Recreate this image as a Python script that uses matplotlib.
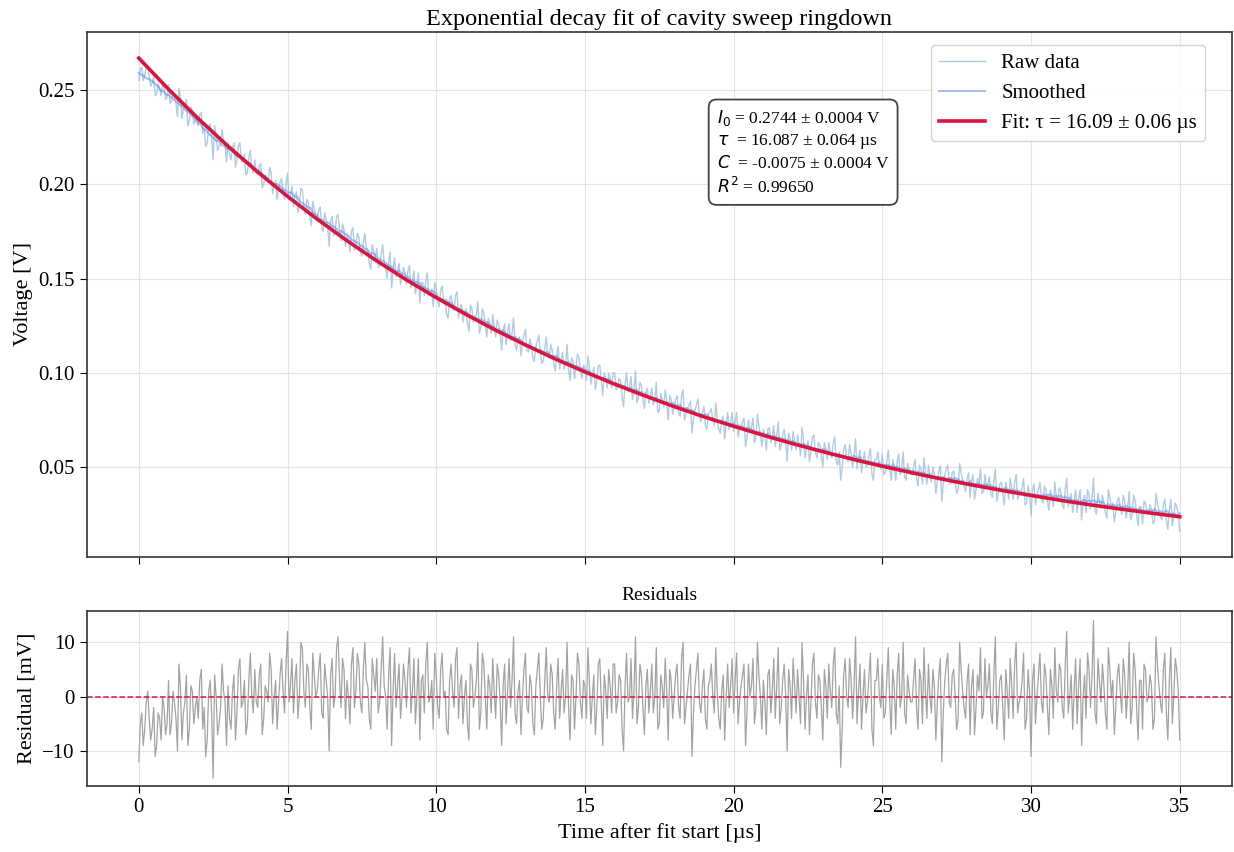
import numpy as np
import pandas as pd
import matplotlib
matplotlib.use("Agg")
from matplotlib import pyplot as plt

plt.rcParams['font.family'] = ['Liberation Serif', 'DejaVu Serif']
plt.rcParams['mathtext.fontset'] = 'dejavusans'

# fit curve, mV at each whole microsecond (0..35)
fit_t = list(range(36))
fit_mv = [266.9, 250.4, 234.8, 220.2, 206.5, 193.6, 181.5, 170.1, 159.4, 149.3,
          139.9, 131.0, 122.6, 114.8, 107.4, 100.5, 94.0, 87.9, 82.1, 76.7,
          71.7, 66.9, 62.4, 58.2, 54.2, 50.5, 47.0, 43.7, 40.6, 37.7,
          35.0, 32.4, 30.0, 27.8, 25.7, 23.7]

# raw trace, mV, one sample per 0.05 us (one row = 1 us)
raw_mv = [
    255, 261, 262, 255, 258, 262, 263, 257, 252, 254, 257, 247, 248, 253, 251, 247, 254, 251, 245, 246,
    253, 243, 244, 249, 246, 243, 236, 251, 246, 235, 240, 241, 245, 231, 234, 241, 239, 232, 234, 236,
    231, 237, 238, 227, 230, 220, 222, 231, 232, 225, 213, 231, 226, 218, 220, 222, 229, 223, 221, 212,
    222, 216, 213, 219, 222, 209, 213, 220, 222, 212, 212, 216, 205, 206, 214, 218, 209, 206, 213, 206,
    205, 210, 211, 198, 200, 205, 204, 201, 209, 206, 195, 199, 202, 192, 197, 201, 203, 197, 192, 200,
    206, 192, 194, 199, 188, 194, 196, 185, 189, 198, 197, 188, 184, 192, 190, 183, 178, 191, 187, 182,
    182, 186, 188, 177, 175, 185, 181, 178, 167, 180, 183, 173, 175, 183, 184, 176, 170, 179, 176, 167,
    173, 170, 164, 175, 177, 165, 168, 174, 172, 164, 162, 169, 174, 166, 165, 158, 155, 168, 164, 161,
    166, 156, 157, 163, 168, 159, 156, 150, 159, 164, 145, 155, 161, 151, 154, 158, 147, 151, 156, 153,
    147, 154, 157, 145, 148, 154, 142, 146, 153, 137, 148, 148, 141, 149, 153, 141, 142, 144, 135, 148,
    144, 138, 135, 144, 146, 138, 138, 131, 129, 139, 141, 136, 133, 141, 143, 129, 135, 136, 127, 132,
    134, 126, 122, 136, 134, 127, 129, 131, 138, 121, 124, 134, 132, 126, 119, 129, 126, 121, 131, 124,
    119, 128, 126, 121, 112, 123, 126, 115, 121, 126, 117, 121, 129, 115, 112, 118, 119, 109, 116, 120,
    123, 112, 111, 118, 115, 108, 106, 114, 117, 120, 111, 105, 106, 113, 119, 109, 108, 115, 112, 105,
    101, 109, 114, 102, 107, 111, 102, 105, 115, 102, 96, 108, 106, 97, 103, 110, 108, 101, 97, 104,
    103, 96, 109, 103, 94, 99, 103, 91, 96, 104, 104, 96, 88, 100, 97, 92, 100, 97, 92, 100,
    100, 91, 92, 97, 96, 87, 82, 94, 100, 90, 91, 98, 86, 91, 101, 84, 87, 95, 93, 86,
    81, 90, 92, 84, 88, 92, 83, 86, 95, 79, 80, 89, 86, 82, 91, 85, 75, 88, 86, 78,
    82, 86, 88, 79, 77, 88, 91, 75, 78, 81, 83, 85, 68, 76, 80, 83, 86, 77, 74, 79,
    82, 72, 70, 78, 79, 81, 75, 72, 84, 75, 70, 68, 75, 77, 65, 73, 79, 70, 74, 79,
    69, 74, 79, 66, 70, 72, 74, 76, 61, 66, 75, 69, 71, 76, 63, 66, 78, 72, 67, 61,
    70, 66, 59, 70, 71, 63, 67, 72, 61, 67, 74, 59, 62, 67, 70, 64, 53, 68, 65, 59,
    69, 64, 59, 67, 62, 56, 71, 64, 55, 60, 64, 53, 59, 66, 67, 58, 55, 63, 62, 56,
    50, 63, 60, 54, 63, 58, 55, 63, 66, 53, 51, 58, 43, 50, 59, 62, 55, 53, 62, 57,
    50, 56, 65, 49, 55, 59, 47, 53, 58, 50, 51, 56, 60, 46, 43, 54, 54, 58, 51, 49,
    57, 46, 47, 53, 59, 49, 43, 54, 51, 43, 53, 57, 46, 48, 58, 45, 43, 52, 48, 46,
    46, 50, 54, 44, 40, 51, 49, 41, 55, 46, 41, 51, 45, 42, 50, 46, 36, 43, 48, 51,
    32, 41, 46, 49, 51, 42, 41, 47, 48, 42, 36, 38, 52, 47, 43, 40, 37, 44, 47, 34,
    43, 46, 33, 38, 44, 41, 49, 36, 37, 46, 39, 41, 45, 36, 34, 43, 49, 32, 36, 41,
    42, 36, 30, 42, 38, 33, 44, 39, 33, 42, 46, 33, 35, 36, 39, 44, 30, 31, 40, 36,
    24, 38, 41, 30, 35, 38, 42, 33, 31, 40, 38, 32, 27, 38, 35, 29, 42, 34, 32, 39,
    37, 30, 28, 38, 44, 29, 32, 36, 26, 32, 38, 26, 33, 38, 22, 31, 35, 26, 38, 35,
    28, 34, 44, 27, 25, 36, 32, 28, 35, 31, 26, 23, 38, 34, 29, 31, 21, 26, 32, 34,
    29, 25, 35, 32, 23, 28, 37, 22, 25, 35, 32, 25, 19, 29, 29, 20, 32, 31, 25, 26,
    30, 28, 20, 21, 36, 31, 27, 24, 22, 30, 33, 22, 17, 27, 33, 19, 24, 31, 29, 25,
    16]

# residuals, mV, one sample per 0.05 us (one row = 1 us)
resid_mv = [
    -12, -5, -3, -9, -6, -1, 1, -4, -8, -6, -2, -11, -9, -3, -4, -8, 0, -2, -7, -5,
    3, -7, -5, 1, -1, -4, -10, 6, 2, -8, -3, -1, 4, -9, -6, 2, 1, -5, -2, 0,
    -4, 3, 5, -6, -2, -11, -8, 1, 3, -3, -15, 4, 0, -7, -5, -2, 6, 1, -1, -9,
    2, -4, -6, 1, 4, -8, -3, 5, 7, -2, -1, 3, -7, -5, 3, 8, 0, -3, 5, -1,
    -2, 4, 6, -7, -4, 2, 1, -1, 8, 5, -5, 0, 3, -6, -1, 4, 7, 1, -3, 6,
    12, -1, 2, 7, -3, 3, 6, -4, 0, 10, 9, 1, -2, 6, 5, -2, -6, 8, 4, 0,
    1, 5, 8, -3, -4, 6, 3, 0, -10, 4, 7, -2, 0, 9, 11, 3, -2, 7, 5, -4,
    3, 0, -5, 6, 9, -2, 1, 8, 6, -1, -3, 5, 10, 3, 2, -4, -6, 7, 4, 1,
    7, -3, -1, 5, 11, 2, 0, -6, 4, 9, -9, 1, 8, -2, 2, 6, -4, 0, 6, 3,
    -2, 5, 9, -3, 1, 7, -5, 0, 7, -8, 3, 4, -3, 6, 10, -1, 0, 3, -6, 8,
    4, -2, -4, 5, 8, 0, 1, -6, -7, 3, 6, 1, -2, 7, 9, -4, 2, 4, -5, 0,
    3, -5, -8, 6, 5, -2, 0, 3, 10, -6, -3, 8, 6, 0, -6, 4, 2, -3, 7, 1,
    -4, 6, 4, -1, -9, 2, 6, -5, 1, 7, -2, 3, 11, -3, -5, 1, 3, -7, 0, 5,
    8, -2, -3, 4, 2, -5, -7, 2, 5, 8, 0, -6, -4, 3, 9, 0, -1, 6, 4, -3,
    -6, 2, 7, -4, 1, 5, -3, 0, 10, -2, -8, 4, 3, -6, 0, 8, 6, -1, -4, 3,
    2, -4, 9, 3, -5, 0, 4, -7, -2, 6, 7, -1, -9, 4, 1, -4, 5, 2, -3, 6,
    6, -3, -1, 4, 3, -6, -10, 2, 8, -1, 0, 7, -4, 1, 11, -5, -2, 6, 4, -2,
    -7, 2, 5, -3, 1, 6, -3, 0, 9, -6, -5, 4, 2, -2, 7, 1, -8, 5, 3, -4,
    0, 4, 6, -2, -4, 7, 10, -5, -2, 1, 4, 6, -11, -3, 2, 5, 8, -1, -3, 2,
    5, -4, -6, 2, 3, 6, 0, -3, 9, 1, -4, -6, 1, 4, -8, 0, 6, -2, 2, 7,
    -3, 3, 8, -5, -1, 2, 4, 6, -9, -3, 6, 0, 2, 7, -5, -2, 10, 4, 0, -6,
    3, -1, -7, 4, 5, -3, 1, 7, -4, 2, 9, -5, -2, 3, 6, 0, -10, 5, 2, -4,
    7, 2, -3, 5, 0, -5, 10, 3, -6, 0, 4, -7, -1, 6, 8, -1, -4, 4, 3, -2,
    -8, 5, 2, -4, 6, 1, -2, 6, 9, -3, -5, 2, -13, -6, 4, 7, 0, -2, 7, 3,
    -4, 2, 11, -5, 1, 6, -6, 0, 5, -3, -1, 4, 8, -6, -9, 3, 3, 7, 0, -2,
    6, -4, -3, 3, 9, -1, -7, 5, 2, -6, 4, 8, -2, 0, 10, -3, -5, 4, 1, -1,
    -1, 3, 7, -2, -6, 5, 3, -5, 9, 1, -4, 6, 0, -3, 5, 2, -8, -1, 4, 7,
    -12, -3, 3, 6, 8, -1, -2, 4, 5, 0, -6, -4, 10, 5, 1, -2, -4, 3, 6, -7,
    2, 5, -7, -2, 4, 1, 9, -4, -3, 7, 0, 2, 6, -3, -5, 4, 11, -6, -2, 3,
    4, -2, -8, 5, 1, -4, 7, 2, -4, 6, 10, -3, -1, 0, 3, 8, -6, -4, 5, 1,
    -11, 3, 6, -5, 0, 4, 8, -1, -3, 6, 4, -2, -7, 5, 2, -4, 9, 1, -1, 6,
    5, -2, -4, 6, 12, -3, 0, 4, -6, 1, 7, -5, 2, 7, -9, 0, 4, -4, 8, 5,
    -2, 4, 14, -3, -5, 7, 3, -1, 6, 2, -3, -6, 9, 5, 0, 3, -7, -2, 4, 6,
    1, -3, 7, 4, -4, 1, 10, -5, -2, 8, 5, -2, -8, 3, 3, -6, 6, 5, -1, 0,
    4, 2, -6, -4, 11, 6, 2, -1, -3, 5, 8, -3, -8, 3, 9, -5, 0, 7, 5, 1,
    -8]

fit_label = 'Fit: τ = 16.09 ± 0.06 µs'
param_text = ('$I_0$ = 0.2744 ± 0.0004 V\n'
              '$\\tau$  = 16.087 ± 0.064 µs\n'
              '$C$  = -0.0075 ± 0.0004 V\n'
              '$R^2$ = 0.99650')

t = np.arange(len(raw_mv)) * 0.05
raw_v = np.array(raw_mv) / 1000.0
smooth_v = pd.Series(raw_v).rolling(15, center=True, min_periods=1).mean().values
fit_v = np.array(fit_mv) / 1000.0

fig = plt.figure(figsize=(12.34, 8.52), dpi=100)
ax = fig.add_axes([0.0703, 0.3466, 0.9279, 0.6155])
ax2 = fig.add_axes([0.0703, 0.0771, 0.9279, 0.2054], sharex=ax)

ax.plot(t, raw_v, color='#9dbfdf', alpha=0.8, lw=1.0, label='Raw data')
ax.plot(t, smooth_v, color='cornflowerblue', alpha=0.6, lw=1.5, label='Smoothed')
ax.plot(fit_t, fit_v, color='crimson', lw=2.6, label=fit_label)

ax.set_xlim(-1.75, 36.75)
ax.set_ylim(0.0025, 0.2806)
ax.set_yticks([0.05, 0.10, 0.15, 0.20, 0.25])
ax.set_ylabel('Voltage [V]', fontsize=16)
ax.set_title('Exponential decay fit of cavity sweep ringdown', fontsize=17.5, pad=5)
ax.tick_params(labelbottom=False, labelsize=15, length=5)
ax.grid(True, color='#d9d9d9', lw=0.8, alpha=0.7)
ax.legend(loc='upper right', bbox_to_anchor=(0.977, 0.976), borderaxespad=0,
          fontsize=15, framealpha=0.9, edgecolor='#d0d0d0', handlelength=2.2)
ax.text(0.550, 0.855, param_text, transform=ax.transAxes, fontsize=12.5,
        va='top', ha='left', linespacing=1.3,
        bbox=dict(boxstyle='round,pad=0.45', fc='white', ec='#444444', lw=1.3))

ax2.plot(t, resid_mv, color='#a3a3a3', lw=0.9)
ax2.axhline(0, color='crimson', ls='--', lw=1.1)
ax2.set_ylim(-16.5, 15.7)
ax2.set_yticks([-10, 0, 10])
ax2.set_xticks([0, 5, 10, 15, 20, 25, 30, 35])
ax2.set_ylabel('Residual [mV]', fontsize=16)
ax2.set_xlabel('Time after fit start [µs]', fontsize=16)
ax2.set_title('Residuals', fontsize=14, pad=8)
ax2.tick_params(labelsize=15, length=5)
ax2.grid(True, color='#d9d9d9', lw=0.8, alpha=0.7)

for a in (ax, ax2):
    for s in a.spines.values():
        s.set_color('#333333')
        s.set_linewidth(1.2)

plt.savefig('out.png', dpi=100)
